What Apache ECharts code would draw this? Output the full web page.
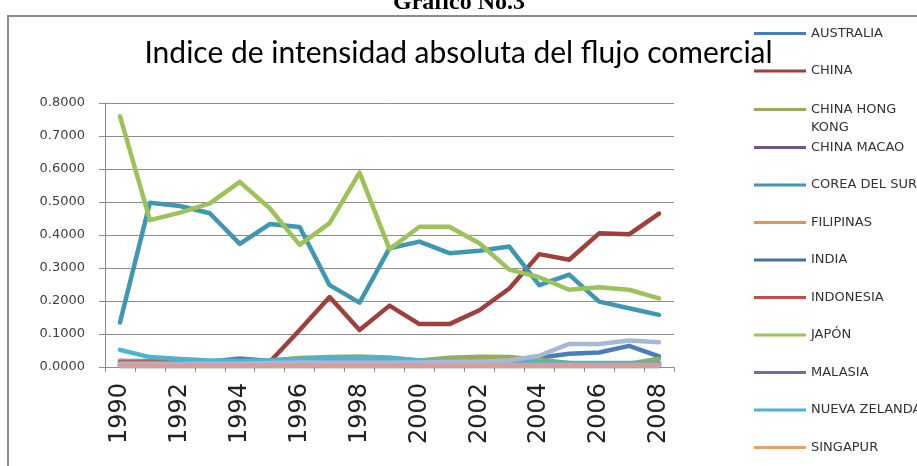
<!DOCTYPE html>
<html>
<head>
<meta charset="utf-8">
<script src="https://cdn.jsdelivr.net/npm/echarts@6/dist/echarts.min.js"></script>
<style>
  html, body { margin: 0; padding: 0; background: #fff; }
  #chart { width: 917px; height: 466px; }
</style>
</head>
<body>
<div id="chart"></div>
<script>
// years on the category axis
var years = ['1990', '1991', '1992', '1993', '1994', '1995', '1996', '1997', '1998', '1999',
             '2000', '2001', '2002', '2003', '2004', '2005', '2006', '2007', '2008'];

// values (index 0..0.8)
var australia = [0.018, 0.018, 0.016, 0.016, 0.026, 0.018, 0.018, 0.018, 0.018, 0.018, 0.016, 0.016, 0.016, 0.018, 0.028, 0.040, 0.044, 0.064, 0.032];
var china = [0.008, 0.008, 0.008, 0.008, 0.008, 0.015, 0.112, 0.212, 0.112, 0.186, 0.130, 0.130, 0.172, 0.238, 0.342, 0.325, 0.405, 0.402, 0.465];
var hongKong = [0.018, 0.016, 0.014, 0.013, 0.013, 0.020, 0.027, 0.030, 0.032, 0.028, 0.020, 0.028, 0.031, 0.030, 0.022, 0.012, 0.010, 0.010, 0.025];
var macao = [0.003, 0.003, 0.003, 0.003, 0.003, 0.003, 0.003, 0.003, 0.003, 0.003, 0.003, 0.003, 0.003, 0.003, 0.003, 0.003, 0.003, 0.003, 0.003];
var corea = [0.135, 0.498, 0.488, 0.466, 0.373, 0.433, 0.424, 0.248, 0.195, 0.360, 0.380, 0.345, 0.352, 0.365, 0.248, 0.280, 0.198, 0.178, 0.158];
var filipinas = [0.008, 0.008, 0.008, 0.008, 0.008, 0.010, 0.010, 0.010, 0.010, 0.010, 0.010, 0.010, 0.010, 0.012, 0.010, 0.008, 0.008, 0.008, 0.010];
var india = [0.005, 0.005, 0.005, 0.005, 0.005, 0.005, 0.005, 0.005, 0.005, 0.005, 0.005, 0.005, 0.005, 0.006, 0.007, 0.008, 0.008, 0.008, 0.009];
var indonesia = [0.014, 0.014, 0.013, 0.012, 0.012, 0.010, 0.010, 0.010, 0.010, 0.010, 0.008, 0.008, 0.008, 0.008, 0.008, 0.008, 0.008, 0.008, 0.008];
var japon = [0.760, 0.445, 0.468, 0.496, 0.561, 0.481, 0.370, 0.436, 0.589, 0.357, 0.425, 0.425, 0.375, 0.295, 0.272, 0.234, 0.242, 0.234, 0.208];
var malasia = [0.004, 0.004, 0.004, 0.004, 0.005, 0.006, 0.010, 0.013, 0.014, 0.012, 0.008, 0.006, 0.006, 0.006, 0.006, 0.006, 0.006, 0.006, 0.006];
var nuevaZelanda = [0.052, 0.030, 0.024, 0.020, 0.018, 0.020, 0.024, 0.027, 0.029, 0.028, 0.020, 0.018, 0.016, 0.016, 0.014, 0.012, 0.012, 0.012, 0.012];
var singapur = [0.006, 0.006, 0.006, 0.006, 0.006, 0.006, 0.006, 0.006, 0.006, 0.006, 0.006, 0.006, 0.006, 0.006, 0.006, 0.006, 0.006, 0.006, 0.006];
// two more lines whose legend entries are cut off below the frame
var serie13 = [0.010, 0.010, 0.010, 0.010, 0.010, 0.012, 0.014, 0.014, 0.014, 0.014, 0.014, 0.016, 0.016, 0.020, 0.034, 0.070, 0.070, 0.080, 0.075];
var serie14 = [0.004, 0.004, 0.004, 0.004, 0.004, 0.004, 0.004, 0.004, 0.004, 0.004, 0.004, 0.004, 0.004, 0.004, 0.004, 0.004, 0.004, 0.004, 0.004];

var names = ['AUSTRALIA', 'CHINA', 'CHINA HONG KONG', 'CHINA MACAO', 'COREA DEL SUR', 'FILIPINAS',
             'INDIA', 'INDONESIA', 'JAPÓN', 'MALASIA', 'NUEVA ZELANDA', 'SINGAPUR', 'SERIE 13', 'SERIE 14'];
var values = [australia, china, hongKong, macao, corea, filipinas, india, indonesia, japon, malasia,
              nuevaZelanda, singapur, serie13, serie14];
var colors = ['#4A7EBB', '#A0403D', '#93AE55', '#6E5792', '#3E98B2', '#E8924A',
              '#4272A8', '#C24E4B', '#9DC25A', '#7B6799', '#4DB3CE', '#EDA06B', '#A8B6D8', '#DA9C99'];

var myChart = echarts.init(document.getElementById('chart'));

var series = names.map(function (n, i) {
    return {
        name: n,
        type: 'line',
        data: values[i],
        symbol: 'none',
        smooth: false,
        lineStyle: { width: 4.5, color: colors[i], join: 'round', cap: 'round' },
        itemStyle: { color: colors[i] }
    };
});

var legendText = { fontFamily: 'DejaVu Sans', fontSize: 13, color: '#333' };
var legendBase = {
    orient: 'vertical',
    left: 754,
    padding: 0,
    icon: 'rect',
    itemWidth: 52,
    itemHeight: 3,
    itemGap: 24.5,
    textStyle: legendText
};

var option = {
    backgroundColor: '#fff',
    animation: false,
    color: colors,
    title: {
        text: 'Indice de intensidad absoluta del flujo comercial',
        left: 'center',
        top: 33,
        textStyle: { fontFamily: 'Lato', fontSize: 30, fontWeight: 'normal', color: '#000' }
    },
    legend: [
        Object.assign({}, legendBase, { top: 27, data: ['AUSTRALIA', 'CHINA'] }),
        Object.assign({}, legendBase, {
            top: 103,
            data: ['CHINA HONG KONG'],
            formatter: function () { return 'CHINA HONG'; }
        }),
        Object.assign({}, legendBase, {
            top: 141,
            data: ['CHINA MACAO', 'COREA DEL SUR', 'FILIPINAS', 'INDIA', 'INDONESIA', 'JAPÓN',
                   'MALASIA', 'NUEVA ZELANDA', 'SINGAPUR']
        })
    ],
    grid: { left: 105, top: 103, width: 569, height: 264 },
    xAxis: {
        type: 'category',
        data: years,
        boundaryGap: true,
        axisLine: { lineStyle: { color: '#8C8C8C', width: 1 } },
        axisTick: { show: true, interval: 0, length: 5, lineStyle: { color: '#8C8C8C' } },
        axisLabel: {
            interval: 1,
            rotate: 90,
            margin: 16,
            fontFamily: 'DejaVu Sans',
            fontSize: 24,
            color: '#222'
        }
    },
    yAxis: {
        type: 'value',
        min: 0,
        max: 0.8,
        interval: 0.1,
        axisLine: { show: true, lineStyle: { color: '#8C8C8C', width: 1 } },
        axisTick: { show: true, length: 6, lineStyle: { color: '#8C8C8C' } },
        splitLine: { lineStyle: { color: '#8C8C8C', width: 1 } },
        axisLabel: {
            margin: 20,
            fontFamily: 'DejaVu Sans',
            fontSize: 13,
            color: '#404040',
            formatter: function (v) { return v.toFixed(4); }
        }
    },
    graphic: [
        {
            type: 'rect',
            shape: { x: 8, y: 16, width: 1000, height: 1000 },
            style: { fill: 'none', stroke: '#8C8C8C', lineWidth: 2 },
            silent: true
        },
        {
            type: 'text',
            x: 459,
            y: 15,
            style: {
                text: 'Grafico No.3',
                font: 'bold 24px "Liberation Serif"',
                fill: '#000',
                textAlign: 'center',
                textVerticalAlign: 'bottom'
            }
        },
        {
            // second line of the "CHINA HONG KONG" legend entry
            type: 'text',
            x: 811,
            y: 128,
            style: {
                text: 'KONG',
                font: '13px "DejaVu Sans"',
                fill: '#333',
                textAlign: 'left',
                textVerticalAlign: 'middle'
            }
        }
    ],
    series: series
};

myChart.setOption(option);
</script>
</body>
</html>
